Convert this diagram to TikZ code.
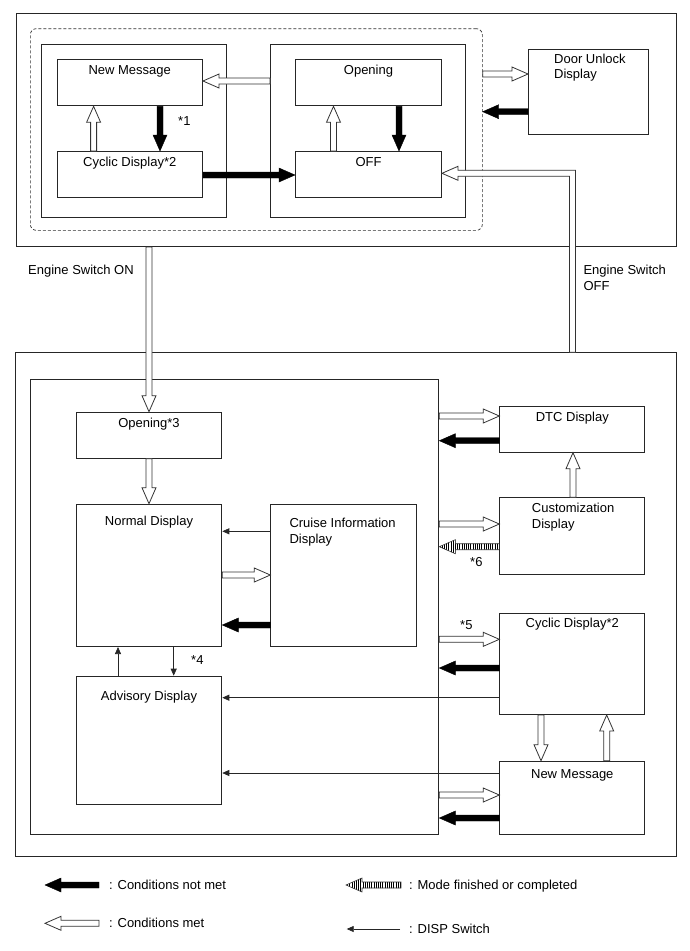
\documentclass[tikz,border=0pt]{standalone}
\usepackage{fontspec}
\setmainfont{Liberation Sans}
\usetikzlibrary{arrows.meta,calc,patterns.meta}

\tikzset{
  box/.style={draw=black!85, line width=1pt, anchor=north west, inner sep=0pt},
  title/.style={anchor=north, inner sep=0pt, yshift=-#1},
  titlel/.style 2 args={anchor=north west, align=left, inner sep=0pt, xshift=#1, yshift=-#2},
  free/.style={anchor=base west, inner sep=0pt},
  arrowbody/.style={to path={
      let \p1=(\tikztostart), \p2=(\tikztotarget),
          \n1={atan2(\y2-\y1,\x2-\x1)}, \n2={veclen(\x2-\x1,\y2-\y1)-16pt}
      in ($(\p1)+(\n1+90:3pt)$) -- ++(\n1:\n2) -- ++(\n1+90:4pt) -- (\p2)
         -- ($(\p2)+(\n1+180:16pt)+(\n1-90:7pt)$) -- ++(\n1+90:4pt)
         -- ($(\p1)+(\n1-90:3pt)$) -- cycle}},
  metfill/.style={fill=white, draw=black!80, line width=0.8pt, line join=miter},
  notmet/.style={arrowbody, fill=black, draw=black, line width=0.4pt},
  met/.style={arrowbody, metfill},
  done/.style={arrowbody, draw=black!80, line width=0.6pt,
    pattern={Lines[angle=90,distance=2.2pt,line width=0.7pt]}},
  disp/.style={draw=black!85, line width=0.7pt, -{Triangle[length=7pt,width=6pt]}}
}

\begin{document}
\begin{tikzpicture}[x=1pt, y=-1pt, font=\fontsize{13}{15.6}\selectfont]
\fill[white] (0,0) rectangle (689,951);
\useasboundingbox (0,0) rectangle (689,951);

% ignition off part
\node[box, minimum width=660.5pt, minimum height=233pt] (topframe) at (15.5,13) {};
\node[draw=black!80, line width=0.7pt, dash pattern=on 3pt off 2pt, rounded corners=6pt,
      anchor=north west, inner sep=0pt, minimum width=452pt, minimum height=201.7pt] (ignzone) at (30,28.3) {};
\node[box, minimum width=185pt, minimum height=172.4pt] (leftgrp) at (41,44.3) {};
\node[box, minimum width=195pt, minimum height=172.4pt] (rightgrp) at (270,44.3) {};
\node[box, minimum width=145.5pt, minimum height=46pt, label={[title=6pt]north:New Message}] (newtop) at (56.5,59.3) {};
\node[box, minimum width=145.5pt, minimum height=45.7pt, label={[title=6pt]north:Cyclic Display*2}] (cyctop) at (56.5,151) {};
\node[box, minimum width=146pt, minimum height=46pt, label={[title=6pt]north:Opening}] (opentop) at (295,59.3) {};
\node[box, minimum width=146pt, minimum height=45.7pt, label={[title=6pt]north:OFF}] (off) at (295,151) {};
\node[box, minimum width=120pt, minimum height=85pt, label={[titlel={26pt}{4.4pt}]north west:Door Unlock\\Display}] (door) at (528,49.3) {};

% ignition on part
\node[box, minimum width=661pt, minimum height=503.7pt] (botframe) at (15,352.3) {};
\node[box, minimum width=408pt, minimum height=454.7pt] (inner) at (30.3,379.3) {};
\node[box, minimum width=145.6pt, minimum height=46pt, label={[title=6.3pt]north:Opening*3}] (open3) at (75.7,411.7) {};
\node[box, minimum width=145.6pt, minimum height=142.3pt, label={[title=12.3pt]north:Normal Display}] (normal) at (75.7,503.7) {};
\node[box, minimum width=145.4pt, minimum height=142.3pt, label={[titlel={19pt}{14.3pt}]north west:Cruise Information\\Display}] (cruise) at (270.3,503.7) {};
\node[box, minimum width=145.6pt, minimum height=128.6pt, label={[title=15.6pt]north:Advisory Display}] (advisory) at (75.7,675.7) {};
\node[box, minimum width=145pt, minimum height=45.7pt, label={[title=6.3pt]north:DTC Display}] (dtc) at (499.3,406) {};
\node[box, minimum width=145pt, minimum height=76.7pt, label={[titlel={32.4pt}{5.7pt}]north west:Customization\\Display}] (custom) at (499.3,497.3) {};
\node[box, minimum width=145pt, minimum height=101.3pt, label={[title=5.6pt]north:Cyclic Display*2}] (cycbot) at (499.3,612.7) {};
\node[box, minimum width=145pt, minimum height=73pt, label={[title=8.6pt]north:New Message}] (newbot) at (499.3,760.7) {};

% arrows, top
\path[met] (rightgrp.west |- 0,81) to (newtop.east |- 0,81);
\path[notmet] (newtop.south -| 160,0) to (cyctop.north -| 160,0);
\node[free] (star1) at (178,125.3) {*1};
\path[met] (cyctop.north -| 93.6,0) to (newtop.south -| 93.6,0);
\path[notmet] (cyctop.east |- 0,175) to (off.west |- 0,175);
\path[met] (off.north -| 333.5,0) to (opentop.south -| 333.5,0);
\path[notmet] (opentop.south -| 399,0) to (off.north -| 399,0);
\path[met] (ignzone.east |- 0,74) to (door.west |- 0,74);
\path[notmet] (door.west |- 0,111.7) to (ignzone.east |- 0,111.7);

% engine switch
\coordinate (offbend) at (572.5,173.3);
\filldraw[metfill] let \p1=(botframe.north -| offbend), \p2=(off.east |- offbend) in
  ({\x1+3pt},\y1) -- ({\x1+3pt},{\y2+3pt}) -- ({\x2+16pt},{\y2+3pt}) -- ({\x2+16pt},{\y2+7pt})
  -- (\p2) -- ({\x2+16pt},{\y2-7pt}) -- ({\x2+16pt},{\y2-3pt}) -- ({\x1-3pt},{\y2-3pt})
  -- ({\x1-3pt},\y1) -- cycle;
\path[met] (topframe.south -| open3.north) to (open3.north);
\node[free] (engon) at (28,274.6) {Engine Switch ON};
\node[anchor=north west, align=left, inner sep=0pt] (engoff) at (583.3,265.2) {Engine Switch\\OFF};

% arrows, bottom
\path[met] (open3.south) to (normal.north);
\draw[disp] (cruise.west |- 0,531.3) -- (normal.east |- 0,531.3);
\path[met] (normal.east |- 0,575) to (cruise.west |- 0,575);
\path[notmet] (cruise.west |- 0,625) to (normal.east |- 0,625);
\draw[disp] (advisory.north -| 118,0) -- (normal.south -| 118,0);
\draw[disp] (normal.south -| 173.7,0) -- (advisory.north -| 173.7,0);
\node[free] (star4) at (191,664.6) {*4};
\path[met] (inner.east |- 0,416) to (dtc.west |- 0,416);
\path[notmet] (dtc.west |- 0,440.7) to (inner.east |- 0,440.7);
\path[met] (custom.north -| 573,0) to (dtc.south -| 573,0);
\path[met] (inner.east |- 0,524) to (custom.west |- 0,524);
\path[done] (custom.west |- 0,546.7) to (inner.east |- 0,546.7);
\node[free] (star6) at (470,566.3) {*6};
\path[met] (inner.east |- 0,639.3) to (cycbot.west |- 0,639.3);
\node[free] (star5) at (460,629.6) {*5};
\path[notmet] (cycbot.west |- 0,668) to (inner.east |- 0,668);
\draw[disp] (cycbot.west |- 0,697.7) -- (advisory.east |- 0,697.7);
\path[met] (cycbot.south -| 541,0) to (newbot.north -| 541,0);
\path[met] (newbot.north -| 606.7,0) to (cycbot.south -| 606.7,0);
\draw[disp] (newbot.west |- 0,773) -- (advisory.east |- 0,773);
\path[met] (inner.east |- 0,795) to (newbot.west |- 0,795);
\path[notmet] (newbot.west |- 0,818) to (inner.east |- 0,818);

% legend
\coordinate (keynotA) at (99,885);
\coordinate (keynotB) at (45,885);
\path[notmet] (keynotA) to (keynotB);
\node[free] (keynot) at (109,889.6) {: Conditions not met};
\coordinate (keymetA) at (99,923.3);
\coordinate (keymetB) at (45,923.3);
\path[met] (keymetA) to (keymetB);
\node[free] (keymet) at (109,927.9) {: Conditions met};
\coordinate (keydoneA) at (401,885);
\coordinate (keydoneB) at (346,885);
\path[done] (keydoneA) to (keydoneB);
\node[free] (keydone) at (409,889.6) {: Mode finished or completed};
\coordinate (keydispA) at (400,929);
\coordinate (keydispB) at (346.7,929);
\draw[disp] (keydispA) -- (keydispB);
\node[free] (keydisp) at (409,933.6) {: DISP Switch};
\end{tikzpicture}
\end{document}
